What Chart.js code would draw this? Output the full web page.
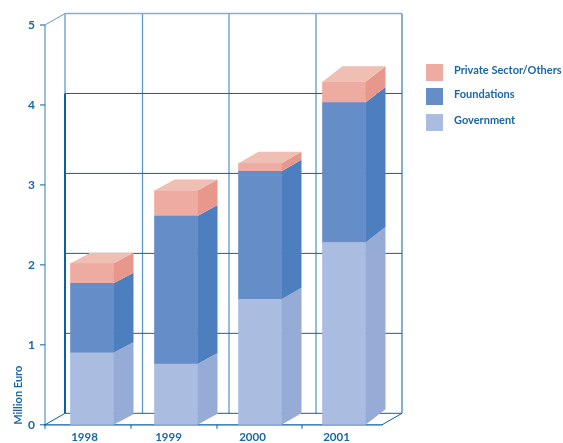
<!DOCTYPE html>
<html>
<head>
<meta charset="utf-8">
<style>
  html, body { margin: 0; padding: 0; background: #fff; }
  #wrap { width: 563px; height: 443px; overflow: hidden; }
  #inner { width: 563px; height: 447px; }
</style>
<script src="https://cdn.jsdelivr.net/npm/chart.js@4"></script>
</head>
<body>
<div id="wrap"><div id="inner"><canvas id="myChart"></canvas></div></div>
<script>
// values (million euro)
var years = ['1998', '1999', '2000', '2001'];
var government = [0.90, 0.76, 1.57, 2.28];
var foundations = [0.87, 1.85, 1.60, 1.75];
var privateSector = [0.25, 0.32, 0.10, 0.26];

// depth of the box per bar, the original is not quite regular
var depthX = 20;
var depthY = [10.5, 11, 11.5, 15.5];

var textBlue = '#1a66a8';
var lineDark = '#0b5fa5';
var lineMid = '#5c9acb';
var lineLight = '#80aed5';

var fronts = ['#aabcdf', '#658dc7', '#eeaba1'];
var sides = ['#97abd7', '#4d7fbe', '#e8978c'];
var topColor = '#f0bfb3';

function line(ctx, x1, y1, x2, y2, color, width) {
  ctx.beginPath();
  ctx.moveTo(x1, y1);
  ctx.lineTo(x2, y2);
  ctx.strokeStyle = color;
  ctx.lineWidth = width;
  ctx.stroke();
}

function face(ctx, pts, color) {
  ctx.beginPath();
  ctx.moveTo(pts[0][0], pts[0][1]);
  for (var i = 1; i < pts.length; i++) ctx.lineTo(pts[i][0], pts[i][1]);
  ctx.closePath();
  ctx.fillStyle = color;
  ctx.fill();
}

// the open box behind the bars
var boxPlugin = {
  id: 'box',
  beforeDatasetsDraw: function (chart) {
    var ctx = chart.ctx, y = chart.scales.y;
    var front = 45, right = 382, wallX = 65, wallDy = 11.5, wallRight = 402;
    var y0 = y.getPixelForValue(0), y4 = y.getPixelForValue(4), y5 = y.getPixelForValue(5);
    ctx.save();
    // vertical lines on the back wall
    [142.5, 229, 316].forEach(function (x) {
      line(ctx, x, y5 - wallDy, x, y0 - wallDy, lineMid, 1.3);
    });
    line(ctx, wallRight, y5 - wallDy, wallRight, y0 - wallDy, lineDark, 1);
    line(ctx, wallX, y5 - wallDy, wallX, y4 - wallDy, lineLight, 1.6);
    line(ctx, wallX, y4 - wallDy, wallX, y0 - wallDy, lineDark, 2);
    // horizontal lines
    [1, 2, 3, 4].forEach(function (v) {
      var py = y.getPixelForValue(v) - wallDy;
      line(ctx, wallX, py, wallRight, py, lineDark, 1);
    });
    line(ctx, wallX, y5 - wallDy, wallRight, y5 - wallDy, lineLight, 1.6);
    line(ctx, wallX, y0 - wallDy, wallRight, y0 - wallDy, lineDark, 1);
    // axes and floor
    line(ctx, front, y5, front, y0, lineLight, 1.6);
    line(ctx, front, y5, wallX, y5 - wallDy, lineMid, 1);
    line(ctx, front, y0, wallX, y0 - wallDy, lineDark, 1);
    line(ctx, right, y0, wallRight, y0 - wallDy, lineDark, 1);
    line(ctx, front - 1, y0, right, y0, lineDark, 1.2);
    // ticks
    [0, 1, 2, 3, 4, 5].forEach(function (v) {
      var py = y.getPixelForValue(v);
      line(ctx, 40, py, front, py, lineDark, 1);
    });
    [45, 131, 217, 302].forEach(function (x) {
      line(ctx, x, y0, x, y0 + 4, lineDark, 1);
    });
    ctx.restore();
  },
  // side and top faces of the bars, from the bar elements
  afterDatasetsDraw: function (chart) {
    var ctx = chart.ctx;
    var count = chart.data.datasets.length;
    for (var d = 0; d < count; d++) {
      chart.getDatasetMeta(d).data.forEach(function (bar, i) {
        var p = bar.getProps(['x', 'y', 'base', 'width'], true);
        var r = p.x + p.width / 2, l = p.x - p.width / 2, dy = depthY[i];
        face(ctx, [[r, p.y], [r + depthX, p.y - dy], [r + depthX, p.base - dy], [r, p.base]], sides[d]);
        if (d === count - 1) {
          face(ctx, [[l, p.y], [l + depthX, p.y - dy], [r + depthX, p.y - dy], [r, p.y]], topColor);
        }
      });
    }
  },
  afterDraw: function (chart) {
    // legend on the right, top entry is the top of the stack
    var ctx = chart.ctx;
    var rows = [64, 88, 114];
    var order = chart.data.datasets.slice().reverse();
    ctx.save();
    ctx.font = 'bold 11px Lato';
    ctx.textBaseline = 'middle';
    order.forEach(function (ds, i) {
      ctx.fillStyle = ds.backgroundColor;
      ctx.fillRect(426, rows[i], 17, 17);
      ctx.fillStyle = textBlue;
      ctx.fillText(ds.label, 454, rows[i] + 6);
    });
    ctx.restore();
  }
};

new Chart(document.getElementById('myChart').getContext('2d'), {
  type: 'bar',
  plugins: [boxPlugin],
  data: {
    labels: years,
    datasets: [
      { label: 'Government', data: government, backgroundColor: fronts[0] },
      { label: 'Foundations', data: foundations, backgroundColor: fronts[1] },
      { label: 'Private Sector/Others', data: privateSector, backgroundColor: fronts[2] }
    ]
  },
  options: {
    responsive: true,
    maintainAspectRatio: false,
    animation: false,
    datasets: { bar: { barThickness: 43, borderWidth: 0 } },
    layout: { padding: { left: 12, right: 177, top: 25, bottom: 0 } },
    plugins: { legend: { display: false }, tooltip: { enabled: false } },
    scales: {
      x: {
        stacked: true,
        afterFit: function (scale) { scale.height = 19; },
        grid: { display: false, drawTicks: false },
        border: { display: false },
        ticks: {
          color: textBlue,
          font: { family: 'Lato', size: 11.5, weight: 'bold' },
          padding: 6,
          labelOffset: -7.5,
          maxRotation: 0
        }
      },
      y: {
        stacked: true,
        min: 0,
        max: 5,
        afterFit: function (scale) { scale.width = 38; },
        grid: { display: false, drawTicks: false },
        border: { display: false },
        title: {
          display: true,
          text: 'Million Euro',
          align: 'start',
          color: textBlue,
          font: { family: 'Lato', size: 11, weight: 'bold' },
          padding: 0
        },
        ticks: {
          stepSize: 1,
          color: textBlue,
          font: { family: 'Lato', size: 12, weight: 'bold' },
          padding: 15
        }
      }
    }
  }
});
</script>
</body>
</html>
